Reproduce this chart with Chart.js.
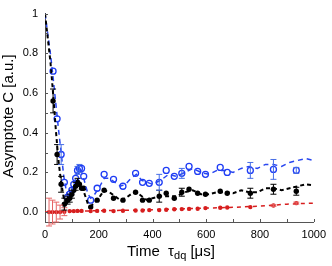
<!DOCTYPE html>
<html>
<head>
<meta charset="utf-8">
<script src="https://cdn.jsdelivr.net/npm/chart.js@4/dist/chart.umd.min.js"></script>
<style>
  body { margin: 0; background: #fff; }
  #wrap { width: 332px; height: 266px; }
</style>
</head>
<body>
<div id="wrap"><canvas id="chart1" width="332" height="266"></canvas></div>
<script>
//Measured points (tau_dq in µs)
const tau = [30, 45, 60, 72, 84, 92, 100, 107, 114, 121, 128, 136, 144, 170, 194, 220, 255, 290, 337, 363, 388, 425, 451, 481, 509, 536, 568, 597, 652, 678, 764, 850, 935];
const blueC = [0.71, 0.47, 0.29, 0.15, 0.075, 0.09, 0.11, 0.14, 0.17, 0.21, 0.22, 0.22, 0.18, 0.06, 0.12, 0.19, 0.165, 0.13, 0.195, 0.15, 0.145, 0.15, 0.21, 0.18, 0.195, 0.23, 0.205, 0.19, 0.225, 0.2, 0.21, 0.215, 0.21];
const blueErr = [0, 0, 0.05, 0, 0, 0, 0, 0, 0, 0.02, 0.02, 0, 0, 0, 0, 0, 0, 0, 0, 0, 0, 0.04, 0, 0, 0.025, 0, 0, 0, 0, 0, 0.04, 0.05, 0.015];
const blackC = [0.56, 0.29, 0.14, 0.04, 0.06, 0.07, 0.09, 0.11, 0.13, 0.15, 0.14, 0.12, 0.12, 0.025, 0.06, 0.11, 0.07, 0.06, 0.1, 0.06, 0.06, 0.08, 0.095, 0.07, 0.1, 0.115, 0.095, 0.09, 0.105, 0.095, 0.095, 0.115, 0.105];
const blackErr = [0.06, 0.05, 0.04, 0.03, 0.02, 0.02, 0.02, 0, 0.02, 0.02, 0, 0, 0, 0, 0, 0, 0, 0, 0, 0, 0, 0.03, 0, 0, 0.02, 0, 0, 0, 0, 0, 0.025, 0.025, 0.02];
const redTau = [15, 28, 42, 56, 72, 92, 107, 121, 136, 170, 194, 220, 255, 290, 337, 363, 388, 425, 451, 481, 509, 536, 568, 597, 652, 678, 764, 850, 935];
const redC = [0, 0, 0, 0, 0.002, 0.005, 0.005, 0.006, 0.006, 0.005, 0.006, 0.007, 0.005, 0.007, 0.008, 0.008, 0.01, 0.01, 0.012, 0.014, 0.015, 0.016, 0.017, 0.02, 0.022, 0.023, 0.025, 0.033, 0.045];
const redErr = [0.07, 0.06, 0.05, 0.035, 0.02, 0, 0, 0, 0, 0, 0, 0, 0, 0, 0, 0, 0, 0, 0, 0, 0, 0, 0, 0, 0, 0, 0, 0.004, 0.005];

//Simulated curves (dashed)
const simTau = [0, 10, 20, 30, 40, 50, 60, 70, 80, 90, 100, 110, 120, 130, 140, 150, 160, 170, 180, 200, 220, 240, 260, 280, 300, 320, 340, 360, 380, 400, 430, 460, 490, 520, 550, 580, 610, 640, 670, 700, 730, 760, 790, 820, 850, 880, 910, 940, 970, 1000];
const blueSim = [1.0, 0.9, 0.8, 0.68, 0.55, 0.42, 0.3, 0.18, 0.1, 0.08, 0.11, 0.15, 0.2, 0.22, 0.19, 0.14, 0.09, 0.07, 0.08, 0.12, 0.17, 0.17, 0.15, 0.13, 0.14, 0.17, 0.19, 0.16, 0.15, 0.14, 0.16, 0.19, 0.18, 0.2, 0.22, 0.2, 0.19, 0.21, 0.21, 0.2, 0.22, 0.23, 0.22, 0.24, 0.24, 0.23, 0.25, 0.26, 0.27, 0.26];
const blackSim = [1.0, 0.88, 0.76, 0.6, 0.42, 0.26, 0.15, 0.07, 0.05, 0.07, 0.09, 0.12, 0.14, 0.14, 0.12, 0.08, 0.04, 0.03, 0.04, 0.07, 0.11, 0.1, 0.08, 0.06, 0.07, 0.09, 0.1, 0.08, 0.06, 0.07, 0.08, 0.08, 0.08, 0.1, 0.11, 0.09, 0.09, 0.1, 0.1, 0.095, 0.11, 0.1, 0.1, 0.12, 0.12, 0.11, 0.12, 0.13, 0.14, 0.135];
const redSimTau = [0, 100, 200, 300, 400, 500, 600, 700, 800, 900, 1000];
const redSim = [0, 0.004, 0.007, 0.009, 0.012, 0.016, 0.02, 0.024, 0.03, 0.04, 0.045];

//Axis labels
const xTickLabels = ['0', '200', '400', '600', '800', '1000'];
const yTickLabels = ['0.0', '0.2', '0.4', '0.6', '0.8', '1'];

const FONT = 'Liberation Sans, Arial, sans-serif';

function pts(xs, ys) {
    return xs.map((t, i) => ({x: t, y: ys[i]}));
}

//error bars + inward ticks + axis titles
const extras = {
    id: 'extras',
    afterDatasetsDraw(chart) {
        const c = chart.ctx;
        const xs = chart.scales.x, ys = chart.scales.y;
        chart.data.datasets.forEach(ds => {
            if (!ds.errors) return;
            c.save();
            c.strokeStyle = ds.errorColor;
            c.lineWidth = 1;
            ds.data.forEach((p, j) => {
                const e = ds.errors[j];
                if (!e) return;
                const px = xs.getPixelForValue(p.x);
                const t = ys.getPixelForValue(p.y + e);
                const b = ys.getPixelForValue(p.y - e);
                c.beginPath();
                c.moveTo(px, t); c.lineTo(px, b);
                c.moveTo(px - 3, t); c.lineTo(px + 3, t);
                c.moveTo(px - 3, b); c.lineTo(px + 3, b);
                c.stroke();
            });
            c.restore();
        });
    },
    afterDraw(chart) {
        const c = chart.ctx;
        const xs = chart.scales.x, ys = chart.scales.y;
        const area = chart.chartArea;
        c.save();
        c.strokeStyle = '#555';
        c.lineWidth = 1;
        c.beginPath();
        xs.ticks.forEach(t => {
            const px = Math.round(xs.getPixelForValue(t.value)) + 0.5;
            c.moveTo(px, area.bottom); c.lineTo(px, area.bottom - 3);
        });
        ys.ticks.forEach(t => {
            const py = Math.round(ys.getPixelForValue(t.value)) + 0.5;
            c.moveTo(area.left, py); c.lineTo(area.left + 3, py);
        });
        c.stroke();

        //x title with subscript
        c.fillStyle = '#000';
        c.textBaseline = 'alphabetic';
        const base = 256;
        const big = '15px ' + FONT, small = '11px ' + FONT;
        c.font = big;
        const w1 = c.measureText('Time  τ').width;
        const w3 = c.measureText(' [μs]').width;
        c.font = small;
        const w2 = c.measureText('dq').width;
        let x0 = 127;
        c.font = big;
        c.fillText('Time  τ', x0, base);
        c.font = small;
        c.fillText('dq', x0 + w1, base + 3);
        c.font = big;
        c.fillText(' [μs]', x0 + w1 + w2, base);

        //y title
        c.translate(9, 116);
        c.rotate(-Math.PI / 2);
        c.textAlign = 'center';
        c.textBaseline = 'middle';
        c.font = big;
        c.fillText('Asymptote C [a.u.]', 0, 0);
        c.restore();
    }
};

const myChart1 = new Chart(document.querySelector('#chart1'), {
    type: 'line',
    data: {
        datasets: [{
            label: 'red sim',
            data: pts(redSimTau, redSim),
            borderColor: 'rgb(215, 30, 30)',
            borderWidth: 1.5,
            borderDash: [4, 4],
            pointRadius: 0
        }, {
            label: 'black sim',
            data: pts(simTau, blackSim),
            borderColor: '#000',
            borderWidth: 2,
            borderDash: [4, 3],
            pointRadius: 0
        }, {
            label: 'blue sim',
            data: pts(simTau, blueSim),
            borderColor: 'rgb(40, 70, 240)',
            borderWidth: 1.5,
            borderDash: [5, 4],
            pointRadius: 0
        }, {
            label: 'red',
            data: pts(redTau, redC),
            errors: redErr,
            errorColor: 'rgb(230, 100, 100)',
            showLine: false,
            pointRadius: 2.2,
            pointBackgroundColor: 'rgb(215, 30, 30)',
            pointBorderColor: 'rgb(215, 30, 30)',
            pointBorderWidth: 0
        }, {
            label: 'black',
            data: pts(tau, blackC),
            errors: blackErr,
            errorColor: '#000',
            showLine: false,
            pointRadius: 2.7,
            pointBackgroundColor: '#000',
            pointBorderColor: '#000',
            pointBorderWidth: 0
        }, {
            label: 'blue',
            data: pts(tau, blueC),
            errors: blueErr,
            errorColor: 'rgb(70, 110, 230)',
            showLine: false,
            pointRadius: 3,
            pointBackgroundColor: 'rgba(255,255,255,0)',
            pointBorderColor: 'rgb(30, 60, 245)',
            pointBorderWidth: 1.3
        }]
    },
    plugins: [extras],
    options: {
        responsive: false,
        animation: false,
        layout: {padding: {left: 0, right: 14, top: 7, bottom: 0}},
        plugins: {legend: {display: false}, tooltip: {enabled: false}},
        scales: {
            x: {
                type: 'linear',
                min: 0,
                max: 1000,
                afterFit: s => { s.height = 44; },
                afterBuildTicks: s => {
                    s.ticks = [];
                    for (let v = 0; v <= 1000; v += 100) s.ticks.push({value: v});
                },
                grid: {display: false, drawTicks: false},
                border: {display: true, color: '#555', width: 1},
                ticks: {
                    autoSkip: false,
                    maxRotation: 0,
                    padding: 6,
                    color: '#000',
                    font: {family: FONT, size: 11},
                    callback: v => (v % 200 === 0 ? xTickLabels[v / 200] : '')
                }
            },
            y: {
                min: -0.05,
                max: 1.0,
                afterFit: s => { s.width = 45; },
                afterBuildTicks: s => {
                    s.ticks = [];
                    for (let i = 0; i <= 10; i++) s.ticks.push({value: i / 10});
                },
                grid: {display: false, drawTicks: false},
                border: {display: true, color: '#555', width: 1},
                ticks: {
                    autoSkip: false,
                    padding: 7,
                    color: '#000',
                    font: {family: FONT, size: 11},
                    callback: function(v) {
                        const k = Math.round(v * 10);
                        return k % 2 === 0 ? yTickLabels[k / 2] : '';
                    }
                }
            }
        }
    }
});
</script>
</body>
</html>
